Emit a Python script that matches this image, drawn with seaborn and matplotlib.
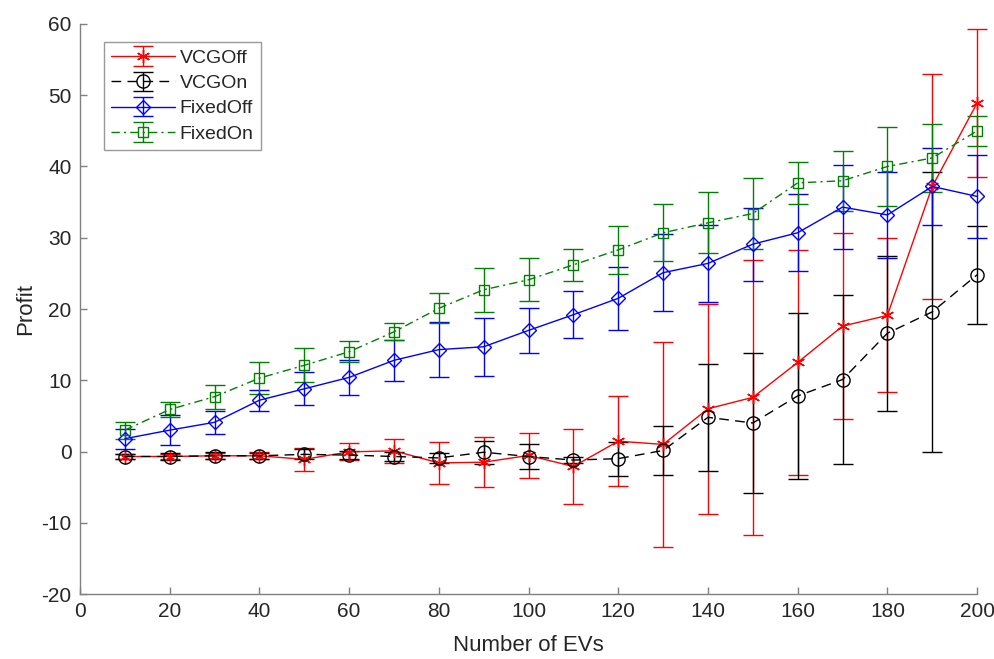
import numpy as np
import pandas as pd
import matplotlib
matplotlib.use("Agg")
import matplotlib.pyplot as plt
import seaborn as sns

# Number of EVs
num_evs = [10, 20, 30, 40, 50, 60, 70, 80, 90, 100,
           110, 120, 130, 140, 150, 160, 170, 180, 190, 200]

# mean profit and error half-widths
vcg_off = [-0.7, -0.7, -0.6, -0.6, -1.1, -0.05, 0.1, -1.6, -1.5, -0.55,
           -2.1, 1.45, 1.0, 6.0, 7.6, 12.5, 17.6, 19.1, 37.2, 48.9]
vcg_off_err = [0.3, 0.4, 0.4, 0.5, 1.6, 1.2, 1.7, 2.9, 3.5, 3.1,
               5.3, 6.3, 14.4, 14.7, 19.3, 15.8, 13.1, 10.8, 15.8, 10.4]

vcg_on = [-0.7, -0.7, -0.6, -0.6, -0.4, -0.5, -0.7, -0.9, -0.1, -0.7,
          -1.2, -1.0, 0.15, 4.8, 4.0, 7.8, 10.1, 16.6, 19.6, 24.8]
vcg_on_err = [0.4, 0.5, 0.5, 0.4, 0.7, 0.6, 0.7, 0.7, 1.6, 1.8,
              0.4, 2.4, 3.4, 7.5, 9.8, 11.6, 11.8, 10.9, 19.6, 6.9]

fixed_off = [1.8, 3.0, 4.1, 7.2, 8.8, 10.4, 12.8, 14.3, 14.7, 17.0,
             19.2, 21.5, 25.1, 26.4, 29.1, 30.7, 34.3, 33.2, 37.2, 35.8]
fixed_off_err = [1.4, 2.1, 1.6, 1.5, 2.3, 2.4, 2.9, 3.9, 4.1, 3.2,
                 3.3, 4.4, 5.4, 5.4, 5.1, 5.4, 5.9, 6.0, 5.4, 5.8]

fixed_on = [3.0, 5.9, 7.7, 10.3, 12.1, 14.0, 16.8, 20.1, 22.7, 24.1,
            26.2, 28.3, 30.7, 32.1, 33.4, 37.7, 38.0, 40.0, 41.2, 45.0]
fixed_on_err = [1.2, 1.0, 1.7, 2.2, 2.4, 1.5, 1.2, 2.1, 3.1, 3.0,
                2.2, 3.4, 4.0, 4.3, 5.0, 3.0, 4.2, 5.6, 4.8, 2.1]

series_names = ['VCGOff', 'VCGOn', 'FixedOff', 'FixedOn']

sns.set_theme(style='ticks')
plt.rcParams['font.family'] = ['Liberation Sans', 'DejaVu Sans']
plt.rcParams['axes.unicode_minus'] = False

df = pd.DataFrame({'EVs': num_evs,
                   'VCGOff': vcg_off, 'VCGOff_err': vcg_off_err,
                   'VCGOn': vcg_on, 'VCGOn_err': vcg_on_err,
                   'FixedOff': fixed_off, 'FixedOff_err': fixed_off_err,
                   'FixedOn': fixed_on, 'FixedOn_err': fixed_on_err})

# style per series (MATLAB look)
styles = {
    'VCGOff': dict(color='#ff0000', ls='-', marker=(6, 2, 0), ms=9.5),
    'VCGOn': dict(color='#000000', ls=(0, (7, 4.5)), marker='o', ms=9.5, mfc='none'),
    'FixedOff': dict(color='#0000ff', ls='-', marker='D', ms=7, mfc='none'),
    'FixedOn': dict(color='#008000', ls=(0, (6, 3, 1.5, 3)), marker='s', ms=6.8, mfc='none'),
}

fig = plt.figure(figsize=(9.95, 6.59), dpi=100)
ax = fig.add_axes([0.0804, 0.0986, 0.9016, 0.865])

for name in series_names:
    st = styles[name]
    cont = ax.errorbar(df['EVs'], df[name], yerr=df[name + '_err'],
                       color=st['color'], ls=st['ls'], lw=1.0,
                       marker=st['marker'], ms=st['ms'],
                       mfc=st.get('mfc', st['color']), mec=st['color'], mew=1.0,
                       elinewidth=1.0, capsize=7, capthick=1.0, label=name)
    for art in cont.get_children():
        art.set_clip_on(False)

ax.set_xlim(0, 200)
ax.set_ylim(-20, 60)
ax.set_xticks(np.arange(0, 201, 20))
ax.set_yticks(np.arange(-20, 61, 10))
ax.set_xlabel('Number of EVs', fontsize=16, color='#262626', labelpad=10)
ax.set_ylabel('Profit', fontsize=16, color='#262626', labelpad=4)
ax.tick_params(direction='in', length=5, width=1.0, color='#808080',
               labelsize=15, labelcolor='#262626', pad=6)
sns.despine(ax=ax)
for sp in ['left', 'bottom']:
    ax.spines[sp].set_color('#808080')
    ax.spines[sp].set_linewidth(1.0)

leg = ax.legend(loc='upper left', bbox_to_anchor=(0.0268, 0.968), fontsize=14,
                frameon=True, fancybox=False, edgecolor='#808080',
                handlelength=3.3, borderpad=0.35, labelspacing=0.4,
                handletextpad=0.25, borderaxespad=0)
leg.get_frame().set_linewidth(1.0)

fig.savefig('out.png', dpi=100)
